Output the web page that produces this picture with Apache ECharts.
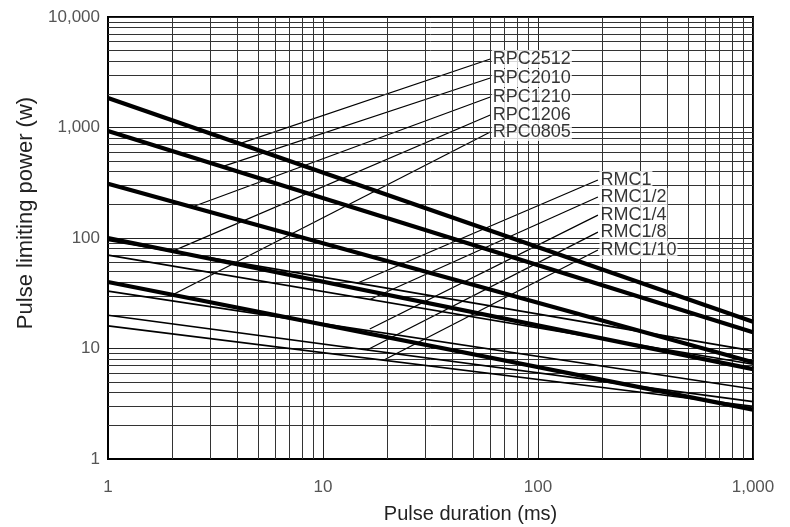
<!DOCTYPE html>
<html>
<head>
<meta charset="utf-8">
<script src="https://cdn.jsdelivr.net/npm/echarts@6/dist/echarts.min.js"></script>
<style>html,body{margin:0;padding:0;background:#fff}#c{width:790px;height:527px}</style>
</head>
<body>
<div id="c"></div>
<script>
// ---- data ----
const xTicks = [1, 10, 100, 1000];
const yTicks = [1, 10, 100, 1000, 10000];
const xMinor = [2,3,4,5,6,7,8,9,20,30,40,50,60,70,80,90,200,300,400,500,600,700,800,900];
const yMinor = [2,3,4,5,6,7,8,9,20,30,40,50,60,70,80,90,200,300,400,500,600,700,800,900,2000,3000,4000,5000,6000,7000,8000,9000];

// RPC series (thick): power at 1 ms and 1000 ms
const rpcNames = ['RPC2512','RPC2010','RPC1210','RPC1206','RPC0805'];
const rpcAt1 = [1850, 930, 310, 100, 40];
const rpcAt1000 = [17.5, 14, 7.5, 6.5, 2.8];
// RMC series (thin)
const rmcNames = ['RMC1','RMC1/2','RMC1/4','RMC1/8','RMC1/10'];
const rmcAt1 = [95, 70, 33, 20, 16];
const rmcAt1000 = [9.5, 7.2, 4.3, 3.3, 3.0];
const durations = [1, 1000];

// label anchors [ms, W] and leader ends [ms, W]
const rpcLabelPos = [[60,4169],[60,2805],[60,1888],[60,1298],[60,910]];
const rpcLeaderEnd = [[4.1,714],[3.4,442],[2.46,191],[2.0,76],[2.0,30.6]];
const rmcLabelPos = [[190,335],[190,235],[190,161],[190,113],[190,78]];
const rmcLeaderEnd = [[14.4,39],[16.5,27.8],[16.5,15],[16,9.7],[19,7.8]];

// ---- chart ----
function fmt(v){
  const r = Math.round(v);
  return String(r).replace(/\B(?=(\d{3})+(?!\d))/g, ',');
}
const series = [];
// minor grid via markLine
series.push({
  type:'line', data:[], silent:true, z:1,
  markLine:{
    silent:true, symbol:['none','none'], animation:false,
    label:{show:false},
    lineStyle:{color:'#333', width:1, type:'solid'},
    emphasis:{disabled:true},
    data: xMinor.map(v=>({xAxis:v})).concat(yMinor.map(v=>({yAxis:v})))
  }
});
function addCurves(names, a1, a2, width){
  names.forEach((n,i)=>{
    series.push({
      type:'line', name:n, z:5, symbol:'none', silent:true, animation:false,
      lineStyle:{color:'#000', width:width},
      data: [[durations[0], a1[i]], [durations[1], a2[i]]]
    });
  });
}
addCurves(rpcNames, rpcAt1, rpcAt1000, 4.2);
addCurves(rmcNames, rmcAt1, rmcAt1000, 1.7);
function addLeaders(names, lab, end){
  names.forEach((n,i)=>{
    series.push({
      type:'line', z:4, symbol:'none', silent:true, animation:false,
      lineStyle:{color:'#000', width:1.2},
      data:[lab[i], end[i]]
    });
  });
  series.push({
    type:'scatter', z:10, silent:true, animation:false, symbolSize:1,
    itemStyle:{color:'rgba(0,0,0,0)'},
    data: names.map((n,i)=>[lab[i][0], lab[i][1], n]),
    label:{show:true, position:'right', distance:1,
      formatter:p=>p.data[2], color:'#000',
      fontFamily:'Liberation Sans', fontSize:18,
      backgroundColor:'#fff', padding:[0,1,0,1]}
  });
}
addLeaders(rpcNames, rpcLabelPos, rpcLeaderEnd);
addLeaders(rmcNames, rmcLabelPos, rmcLeaderEnd);

const chart = echarts.init(document.getElementById('c'), null, {renderer:'canvas'});
chart.setOption({
  animation:false,
  backgroundColor:'#fff',
  grid:{left:108, right:37, top:17, bottom:68, containLabel:false, outerBoundsMode:'none',
        show:true, borderColor:'#000', borderWidth:2, backgroundColor:'#fff'},
  xAxis:{
    type:'log', logBase:10, min:xTicks[0], max:xTicks[xTicks.length-1],
    name:'Pulse duration (ms)', nameLocation:'middle', nameGap:45,
    nameTextStyle:{fontFamily:'Liberation Sans', fontSize:20, color:'#222', padding:[0,0,0,80]},
    axisLine:{show:true, lineStyle:{color:'#000', width:2}},
    axisTick:{show:false},
    axisLabel:{margin:20, color:'#555', fontFamily:'Liberation Sans', fontSize:17, formatter:fmt},
    splitLine:{show:true, lineStyle:{color:'#222', width:1}}
  },
  yAxis:{
    type:'log', logBase:10, min:yTicks[0], max:yTicks[yTicks.length-1],
    name:'Pulse limiting power (w)', nameLocation:'middle', nameGap:68,
    nameTextStyle:{fontFamily:'Liberation Sans', fontSize:22, color:'#222', padding:[0,0,0,50]},
    axisLine:{show:true, lineStyle:{color:'#000', width:2}},
    axisTick:{show:false},
    axisLabel:{margin:8, color:'#555', fontFamily:'Liberation Sans', fontSize:17, formatter:fmt},
    splitLine:{show:true, lineStyle:{color:'#222', width:1}}
  },
  series: series
});
</script>
</body>
</html>
